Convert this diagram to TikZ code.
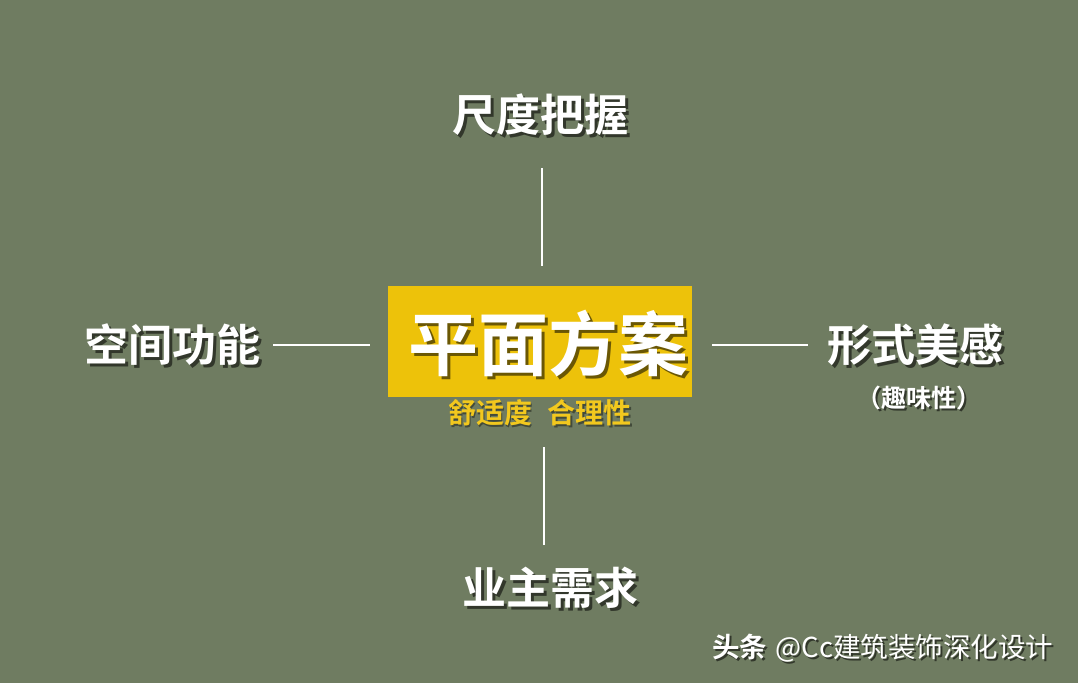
\documentclass[tikz,border=0pt]{standalone}
\usepackage{fontspec}
\newfontfamily\cjkb{Noto Sans CJK SC Bold}
\newfontfamily\cjkr{Noto Sans CJK SC}
\definecolor{bg}{HTML}{6F7C61}
\definecolor{boxy}{HTML}{EDC20A}
\definecolor{suby}{HTML}{F2C81E}
\tikzset{
  lbl/.style={text=white, inner sep=0pt, font=\cjkb\fontsize{44}{44}\selectfont},
  shd/.style={text=black, opacity=0.55, inner sep=0pt},
  conn/.style={draw=white, line width=2.6pt},
}
\begin{document}
\begin{tikzpicture}[x=1pt,y=-1pt]
\fill[bg] (0,0) rectangle (1078,683);
\useasboundingbox (0,0) rectangle (1078,683);
% central box
\node[fill=boxy, minimum width=304pt, minimum height=111pt, inner sep=0pt] (box) at (540,341.5) {};
\node[shd, font=\cjkb\fontsize{70}{70}\selectfont] (mainS) at (551,347) {平面方案};
\node[lbl, font=\cjkb\fontsize{70}{70}\selectfont] (main) at (548,344) {平面方案};
\node[shd, font=\cjkb\fontsize{28}{28}\selectfont, opacity=0.4] (subS) at (541.5,414.5) {舒适度\hspace{0.55em}合理性};
\node[text=suby, inner sep=0pt, font=\cjkb\fontsize{28}{28}\selectfont] (sub) at (540,413) {舒适度\hspace{0.55em}合理性};
% labels
\node[shd, font=\cjkb\fontsize{44}{44}\selectfont] (topS) at (543,118) {尺度把握};
\node[lbl] (top) at (540,115) {尺度把握};
\node[shd, font=\cjkb\fontsize{44}{44}\selectfont] (leftS) at (175,348) {空间功能};
\node[lbl] (left) at (172,345) {空间功能};
\node[shd, font=\cjkb\fontsize{44}{44}\selectfont] (rightS) at (918,348) {形式美感};
\node[lbl] (right) at (915,345) {形式美感};
\node[shd, font=\cjkb\fontsize{25}{25}\selectfont] (paraS) at (921,400) {（趣味性）};
\node[text=white, inner sep=0pt, font=\cjkb\fontsize{25}{25}\selectfont] (para) at (919,398) {（趣味性）};
\node[shd, font=\cjkb\fontsize{44}{44}\selectfont] (botS) at (553,591) {业主需求};
\node[lbl] (bot) at (550,588) {业主需求};
% connector anchors
\coordinate (t1) at (542,168); \coordinate (t2) at (542,266);
\coordinate (l1) at (273,345); \coordinate (l2) at (370,345);
\coordinate (r1) at (712,345); \coordinate (r2) at (808,345);
\coordinate (b1) at (544,447); \coordinate (b2) at (544,545);
\draw[conn] (t1) -- (t2);
\draw[conn] (l1) -- (l2);
\draw[conn] (r1) -- (r2);
\draw[conn] (b1) -- (b2);
% watermark
\node[shd, anchor=west, font=\fontsize{27.5}{27.5}\selectfont] (wmS) at (714,650) {{\cjkb 头条} \cjkr @Cc建筑装饰深化设计};
\node[text=white, inner sep=0pt, anchor=west, font=\fontsize{27.5}{27.5}\selectfont] (wm) at (712,648) {{\cjkb 头条} \cjkr @Cc建筑装饰深化设计};
\end{tikzpicture}
\end{document}
